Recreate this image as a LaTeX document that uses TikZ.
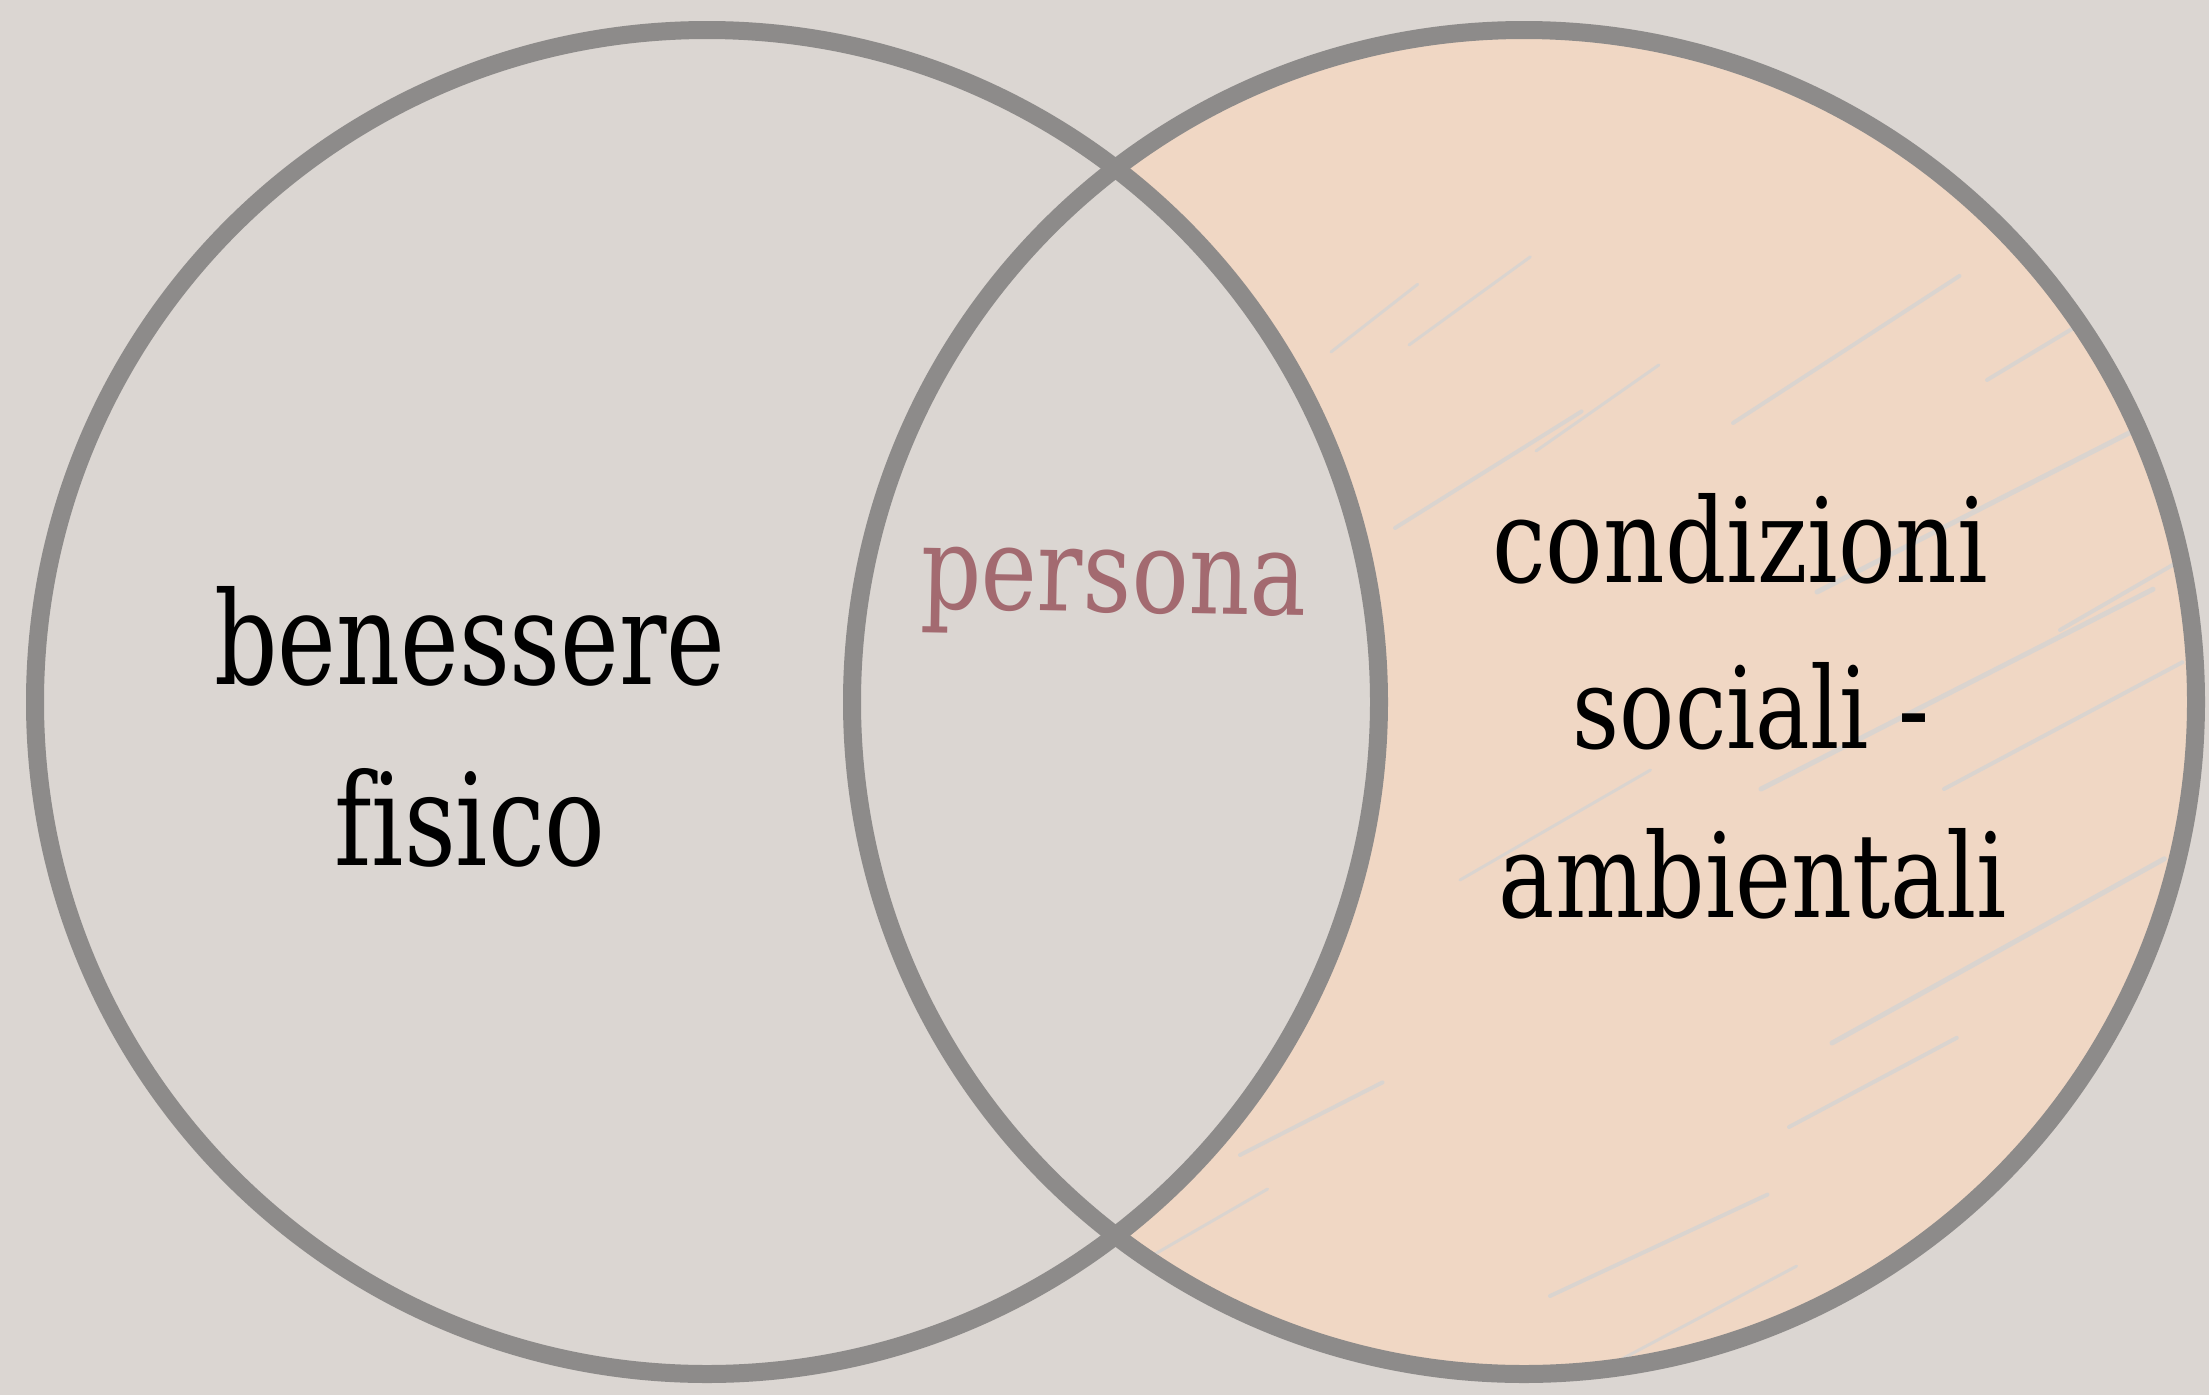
\documentclass[tikz,border=0pt]{standalone}
\usepackage{fontspec}
\usepackage{graphicx}
\newfontfamily\slab[Ligatures=NoCommon]{DejaVu Serif Condensed}
\definecolor{bgc}{HTML}{DBD6D2}
\definecolor{peach}{HTML}{F0D7C4}
\definecolor{ring}{HTML}{8D8B8A}
\definecolor{hatch}{HTML}{D8D4D1}
\definecolor{rose}{HTML}{A36A70}
\tikzset{
  ringline/.style={draw=ring, line width=18pt},
  hatchline/.style={draw=hatch, line width=4pt, line cap=round, opacity=0.9},
  lbl/.style={inner sep=0pt, outer sep=0pt, anchor=base, font=\slab},
}
\begin{document}
\begin{tikzpicture}[x=1pt,y=-1pt]
\useasboundingbox (0,0) rectangle (2209,1395);
\fill[bgc] (0,0) rectangle (2209,1395);
\coordinate (cl) at (707,702);
\coordinate (cr) at (1524,702);
% crescent
\begin{scope}
  \clip (cr) circle[radius=672];
  \fill[peach, even odd rule] (0,0) rectangle (2209,1395) (cl) circle[radius=672];
  \begin{scope}[even odd rule]
    \clip (0,0) rectangle (2209,1395) (cl) circle[radius=672];
    \foreach \x/\y/\l/\a/\w in {
      1409/345/150/36/3, 1331/352/110/38/3, 1733/423/270/33/4, 1536/451/150/35/3,
      1395/528/220/32/4, 1987/380/170/31/4, 1817/592/390/27/5, 1761/789/440/27/5,
      1832/1043/380/29/5, 1789/1127/190/28/4, 1240/1155/160/27/4, 1155/1254/130/30/3,
      1550/1296/240/25/4, 1944/789/270/28/4, 1620/1360/200/28/3, 2000/1180/200/30/4,
      1460/880/220/30/3, 2060/630/150/30/4, 1200/700/160/33/3}
      \draw[hatchline, line width=\w pt] (\x,\y) -- ++({\l*cos(\a)},{-\l*sin(\a)});
  \end{scope}
\end{scope}
\draw[ringline] (cl) circle[radius=672];
\draw[ringline] (cr) circle[radius=672];
% labels
\node[lbl] (ben) at (470,684) {\resizebox{511pt}{98pt}{benessere}};
\node[lbl] (fis) at (470,865) {\resizebox{271pt}{97pt}{fisico}};
\node[lbl] (con) at (1740,582) {\resizebox{495pt}{89pt}{condizioni}};
\node[lbl] (soc) at (1751,748) {\resizebox{356pt}{86pt}{sociali -}};
\node[lbl] (amb) at (1753,917) {\resizebox{508pt}{89pt}{ambientali}};
\node[lbl, text=rose, rotate=-1] (per) at (1113,612) {\resizebox{386pt}{62pt}{persona}};
\end{tikzpicture}
\end{document}
